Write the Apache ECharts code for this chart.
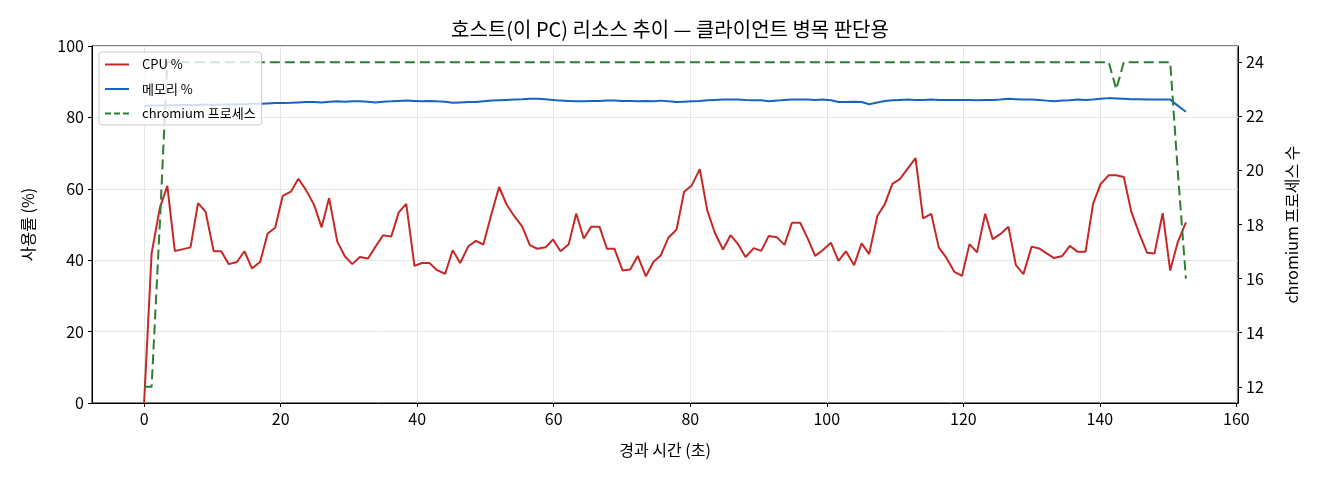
<!DOCTYPE html>
<html>
<head>
<meta charset="utf-8">
<title>호스트 리소스 추이</title>
<script src="https://cdn.jsdelivr.net/npm/echarts@6/dist/echarts.min.js"></script>
<style>
  html, body { margin: 0; padding: 0; background: #fff; }
  #chart { width: 1320px; height: 480px; }
</style>
</head>
<body>
<div id="chart"></div>
<script>
// 경과 시간 (초)
const elapsed = [
  0.0, 1.1, 2.3, 3.4, 4.5, 5.7, 6.8, 7.9, 9.0, 10.2,
  11.3, 12.4, 13.6, 14.7, 15.8, 17.0, 18.1, 19.2, 20.3, 21.5,
  22.6, 23.7, 24.9, 26.0, 27.1, 28.3, 29.4, 30.5, 31.6, 32.8,
  33.9, 35.0, 36.2, 37.3, 38.4, 39.6, 40.7, 41.8, 42.9, 44.1,
  45.2, 46.3, 47.5, 48.6, 49.7, 50.9, 52.0, 53.1, 54.2, 55.4,
  56.5, 57.6, 58.8, 59.9, 61.0, 62.2, 63.3, 64.4, 65.5, 66.7,
  67.8, 68.9, 70.1, 71.2, 72.3, 73.5, 74.6, 75.7, 76.8, 78.0,
  79.1, 80.2, 81.4, 82.5, 83.6, 84.8, 85.9, 87.0, 88.1, 89.3,
  90.4, 91.5, 92.7, 93.8, 94.9, 96.1, 97.2, 98.3, 99.4, 100.6,
  101.7, 102.8, 104.0, 105.1, 106.2, 107.4, 108.5, 109.6, 110.7, 111.9,
  113.0, 114.1, 115.3, 116.4, 117.5, 118.7, 119.8, 120.9, 122.0, 123.2,
  124.3, 125.4, 126.6, 127.7, 128.8, 130.0, 131.1, 132.2, 133.3, 134.5,
  135.6, 136.7, 137.9, 139.0, 140.1, 141.3, 142.4, 143.5, 144.6, 145.8,
  146.9, 148.0, 149.2, 150.3, 151.4, 152.6
];

// CPU %
const cpuPct = [
  0, 41.9, 54.6, 60.8, 42.6, 43.1, 43.6, 56.0, 53.6, 42.5,
  42.5, 38.9, 39.5, 42.5, 37.7, 39.5, 47.5, 49.1, 58.0, 59.2,
  62.8, 59.7, 55.5, 49.2, 57.4, 45.2, 41.1, 38.9, 40.9, 40.5,
  43.8, 47.0, 46.6, 53.4, 55.8, 38.4, 39.2, 39.2, 37.2, 36.2,
  42.8, 39.2, 43.9, 45.4, 44.4, 53.1, 60.5, 55.6, 52.4, 49.4,
  44.2, 43.2, 43.6, 45.8, 42.5, 44.5, 53.1, 46.1, 49.4, 49.4,
  43.2, 43.2, 37.1, 37.4, 41.2, 35.5, 39.5, 41.4, 46.3, 48.6,
  59.2, 60.9, 65.5, 53.9, 47.7, 43.0, 47.0, 44.5, 40.9, 43.4,
  42.6, 46.8, 46.4, 44.3, 50.5, 50.5, 46.1, 41.2, 42.8, 44.9,
  39.8, 42.5, 38.6, 44.7, 41.7, 52.4, 55.7, 61.4, 62.7, 65.8,
  68.6, 51.7, 53.0, 43.6, 40.7, 36.7, 35.6, 44.5, 42.2, 53.0,
  45.9, 47.3, 49.4, 38.6, 36.1, 43.8, 43.3, 41.9, 40.6, 41.2,
  44.0, 42.4, 42.4, 55.8, 61.3, 63.8, 63.8, 63.3, 53.6, 47.3,
  42.1, 41.9, 53.2, 37.1, 45.0, 50.6
];

// 메모리 %
const memPct = [
  83.2, 83.3, 83.3, 83.4, 83.4, 83.5, 83.5, 83.5, 83.6, 83.5,
  83.6, 83.6, 83.7, 83.7, 83.8, 83.8, 83.9, 84.0, 84.0, 84.1,
  84.2, 84.3, 84.3, 84.2, 84.4, 84.5, 84.4, 84.5, 84.5, 84.4,
  84.2, 84.4, 84.5, 84.6, 84.7, 84.6, 84.5, 84.6, 84.5, 84.4,
  84.1, 84.2, 84.3, 84.3, 84.5, 84.7, 84.8, 84.9, 85.0, 85.1,
  85.2, 85.2, 85.1, 84.9, 84.7, 84.6, 84.5, 84.5, 84.6, 84.6,
  84.7, 84.7, 84.6, 84.6, 84.5, 84.6, 84.5, 84.7, 84.5, 84.3,
  84.4, 84.5, 84.6, 84.8, 84.9, 85.0, 85.0, 85.0, 84.9, 84.8,
  84.8, 84.5, 84.7, 84.9, 85.0, 85.0, 85.0, 84.9, 85.0, 84.8,
  84.3, 84.3, 84.4, 84.3, 83.7, 84.2, 84.6, 84.8, 84.9, 85.0,
  84.9, 84.9, 85.0, 84.9, 84.9, 84.9, 84.9, 84.9, 84.8, 84.9,
  84.9, 85.0, 85.2, 85.1, 85.0, 85.0, 84.9, 84.7, 84.5, 84.7,
  84.8, 85.0, 84.9, 85.0, 85.2, 85.4, 85.3, 85.2, 85.1, 85.1,
  85.0, 85.0, 85.0, 85.0, 83.3, 81.6
];

// chromium 프로세스 수
const chromiumCount = [
  12, 12, 18, 24, 24, 24, 24, 24, 24, 24,
  24, 24, 24, 24, 24, 24, 24, 24, 24, 24,
  24, 24, 24, 24, 24, 24, 24, 24, 24, 24,
  24, 24, 24, 24, 24, 24, 24, 24, 24, 24,
  24, 24, 24, 24, 24, 24, 24, 24, 24, 24,
  24, 24, 24, 24, 24, 24, 24, 24, 24, 24,
  24, 24, 24, 24, 24, 24, 24, 24, 24, 24,
  24, 24, 24, 24, 24, 24, 24, 24, 24, 24,
  24, 24, 24, 24, 24, 24, 24, 24, 24, 24,
  24, 24, 24, 24, 24, 24, 24, 24, 24, 24,
  24, 24, 24, 24, 24, 24, 24, 24, 24, 24,
  24, 24, 24, 24, 24, 24, 24, 24, 24, 24,
  24, 24, 24, 24, 24, 24, 23, 24, 24, 24,
  24, 24, 24, 24, 20, 16
];

const FONT = '"Noto Sans CJK KR", "Noto Sans", sans-serif';

const chart = echarts.init(document.getElementById('chart'));

const pairs = (ys) => ys.map((v, i) => [elapsed[i], v]);

// 범례 아이콘: 실선 / 점선
const solidIcon = 'path://M0,0H24V2H0Z';
const dashIcon = 'path://M0,0H6V2H0Z M9,0H15V2H9Z M18,0H24V2H18Z';

const axisText = { fontFamily: FONT, fontSize: 16, color: '#000' };
const nameText = { fontFamily: FONT, fontSize: 16, color: '#000' };

const option = {
  animation: false,
  backgroundColor: '#fff',
  textStyle: { fontFamily: FONT, color: '#000' },
  title: {
    text: '호스트(이 PC) 리소스 추이 — 클라이언트 병목 판단용',
    left: 665,
    textAlign: 'center',
    top: 14,
    textStyle: { fontFamily: FONT, fontSize: 20, fontWeight: 'normal', color: '#000' }
  },
  legend: {
    orient: 'vertical',
    left: 99,
    top: 52,
    padding: [6, 6, 5, 6],
    itemGap: 11.5,
    itemWidth: 24,
    itemHeight: 12,
    backgroundColor: 'rgba(255,255,255,0.8)',
    borderColor: '#cccccc',
    borderWidth: 1,
    borderRadius: 3,
    textStyle: { fontFamily: FONT, fontSize: 13, color: '#000', padding: [0, 0, 0, 8] },
    data: [
      { name: 'CPU %', icon: solidIcon },
      { name: '메모리 %', icon: solidIcon },
      { name: 'chromium 프로세스', icon: dashIcon }
    ]
  },
  grid: {
    left: 92,
    right: 82,
    top: 46,
    bottom: 77,
    show: true,
    borderColor: '#000',
    borderWidth: 1
  },
  xAxis: {
    type: 'value',
    min: -7.63,
    max: 160.23,
    splitNumber: 8,
    name: '경과 시간 (초)',
    nameLocation: 'middle',
    nameGap: 39,
    nameTextStyle: nameText,
    axisLine: { show: true, onZero: false, lineStyle: { color: '#000', width: 1 } },
    axisTick: { show: true, length: 4, lineStyle: { color: '#000' } },
    axisLabel: Object.assign({ showMinLabel: false, showMaxLabel: false, margin: 8 }, axisText),
    splitLine: { show: true, lineStyle: { color: '#e6e6e6', width: 1 } }
  },
  yAxis: [
    {
      type: 'value',
      min: 0,
      max: 100,
      interval: 20,
      name: '사용률 (%)',
      nameLocation: 'middle',
      nameRotate: 90,
      nameGap: 56,
      nameTextStyle: nameText,
      axisLine: { show: true, onZero: false, lineStyle: { color: '#000', width: 1 } },
      axisTick: { show: true, length: 4, lineStyle: { color: '#000' } },
      axisLabel: Object.assign({ margin: 8 }, axisText),
      splitLine: { show: true, lineStyle: { color: '#e6e6e6', width: 1 } }
    },
    {
      type: 'value',
      position: 'right',
      min: 11.4,
      max: 24.6,
      splitNumber: 6,
      name: 'chromium 프로세스 수',
      nameLocation: 'middle',
      nameRotate: 90,
      nameGap: 46,
      nameTextStyle: nameText,
      axisLine: { show: true, onZero: false, lineStyle: { color: '#000', width: 1 } },
      axisTick: { show: true, length: 4, lineStyle: { color: '#000' } },
      axisLabel: Object.assign({ showMinLabel: false, showMaxLabel: false, margin: 8 }, axisText),
      splitLine: { show: false }
    }
  ],
  series: [
    {
      name: 'CPU %',
      type: 'line',
      symbol: 'none',
      color: '#c62828',
      lineStyle: { width: 2, color: '#c62828' },
      data: pairs(cpuPct)
    },
    {
      name: '메모리 %',
      type: 'line',
      symbol: 'none',
      color: '#1565c0',
      lineStyle: { width: 2, color: '#1565c0' },
      data: pairs(memPct)
    },
    {
      name: 'chromium 프로세스',
      type: 'line',
      yAxisIndex: 1,
      symbol: 'none',
      color: '#2e7d32',
      lineStyle: { width: 2, color: '#2e7d32', type: [10, 5] },
      data: pairs(chromiumCount)
    }
  ]
};

chart.setOption(option);

window.addEventListener('resize', function () {
  chart.resize();
});
</script>
</body>
</html>
